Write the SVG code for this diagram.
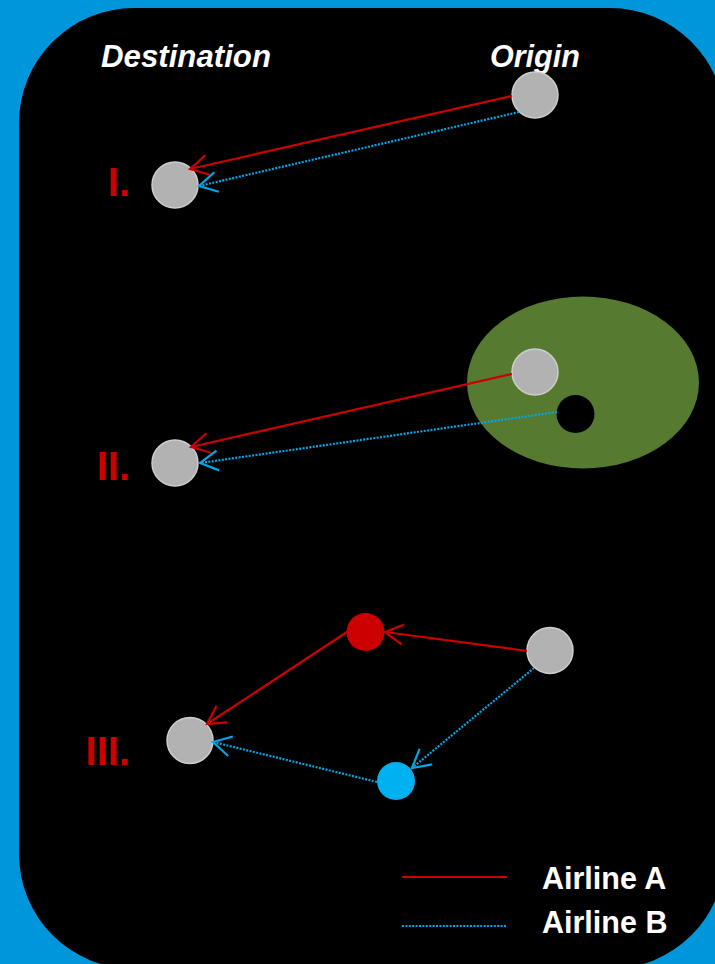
<svg xmlns="http://www.w3.org/2000/svg" width="715" height="964" viewBox="0 0 715 964">
  <defs>
    <style>
      .hdr { font-family: "Liberation Sans", Arial, sans-serif; font-weight: bold; font-style: italic; font-size: 30.5px; fill: #ffffff; }
      .num { font-family: "Liberation Sans", Arial, sans-serif; font-weight: bold; font-size: 40px; fill: #cc0000; }
      .leg { font-family: "Liberation Sans", Arial, sans-serif; font-weight: bold; font-size: 30.5px; fill: #ffffff; }
      .airport { fill: #b2b2b2; stroke: #cdcdcd; stroke-width: 1.5; }
      .lineA { fill: none; stroke: #cc0000; stroke-width: 2.2; }
      .lineB { fill: none; stroke: #00a6e6; stroke-width: 2.2; stroke-dasharray: 2 1.4; }
    </style>
    <marker id="headA" markerUnits="userSpaceOnUse" markerWidth="40" markerHeight="40" refX="0" refY="0" viewBox="-20 -20 40 40" orient="auto" overflow="visible">
      <path d="M -18,-10 L 0,0 L -18,10" fill="none" stroke="#cc0000" stroke-width="2.2"/>
    </marker>
    <marker id="headB" markerUnits="userSpaceOnUse" markerWidth="40" markerHeight="40" refX="0" refY="0" viewBox="-20 -20 40 40" orient="auto" overflow="visible">
      <path d="M -18,-10 L 0,0 L -18,10" fill="none" stroke="#00a6e6" stroke-width="2.2"/>
    </marker>
  </defs>

  <!-- frame -->
  <rect x="0" y="0" width="715" height="964" fill="#0096dc"/>
  <rect x="19" y="8" width="706" height="961" rx="115" ry="115" fill="#000000"/>

  <!-- column headings -->
  <text class="hdr" x="101" y="67" textLength="170" lengthAdjust="spacingAndGlyphs">Destination</text>
  <text class="hdr" x="490" y="67">Origin</text>

  <!-- scenario labels -->
  <text class="num" x="130" y="196" text-anchor="end">I.</text>
  <text class="num" x="130" y="480" text-anchor="end">II.</text>
  <text class="num" x="130" y="765" text-anchor="end">III.</text>

  <!-- catchment area -->
  <g id="catchment">
    <ellipse cx="583" cy="382.5" rx="116" ry="86" fill="#557a30"/>
  </g>

  <!-- nodes -->
  <g id="origin-1"><circle class="airport" cx="535" cy="95" r="23"/></g>
  <g id="dest-1"><circle class="airport" cx="175" cy="185" r="23"/></g>
  <g id="origin-2"><circle class="airport" cx="535" cy="372" r="23"/></g>
  <g id="origin-2b"><circle cx="575.5" cy="414" r="19" fill="#000000"/></g>
  <g id="dest-2"><circle class="airport" cx="175" cy="463" r="23"/></g>
  <g id="origin-3"><circle class="airport" cx="550" cy="650.5" r="23"/></g>
  <g id="hub-a"><circle cx="365.5" cy="632" r="19" fill="#cc0000"/></g>
  <g id="hub-b"><circle cx="396" cy="781" r="19" fill="#00b0f0"/></g>
  <g id="dest-3"><circle class="airport" cx="190" cy="740.5" r="23"/></g>

  <!-- connectors -->
  <g id="connectors">
    <line class="lineA" x1="512" y1="96" x2="190" y2="169" marker-end="url(#headA)"/>
    <line class="lineB" x1="519" y1="112" x2="199" y2="186" marker-end="url(#headB)"/>

    <line class="lineA" x1="512" y1="374" x2="191" y2="447" marker-end="url(#headA)"/>
    <line class="lineB" x1="557" y1="412" x2="200" y2="463" marker-end="url(#headB)"/>

    <line class="lineA" x1="527" y1="651" x2="385" y2="632" marker-end="url(#headA)"/>
    <line class="lineA" x1="350" y1="630" x2="207" y2="724" marker-end="url(#headA)"/>
    <line class="lineB" x1="534" y1="668" x2="412" y2="768" marker-end="url(#headB)"/>
    <line class="lineB" x1="377" y1="782" x2="213" y2="742" marker-end="url(#headB)"/>
  </g>

  <!-- legend -->
  <g id="legend">
    <line class="lineA" x1="402" y1="877" x2="507" y2="877" stroke-width="2.6"/>
    <line class="lineB" x1="402" y1="926" x2="507" y2="926"/>
    <text class="leg" x="542" y="889">Airline A</text>
    <text class="leg" x="542" y="933">Airline B</text>
  </g>
</svg>
